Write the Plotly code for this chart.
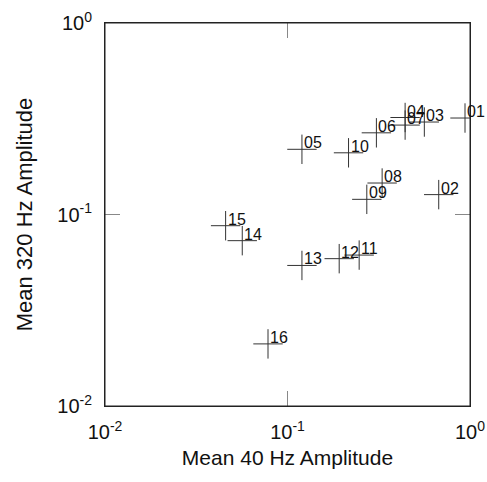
import math
import plotly.graph_objects as go

labels = ["01", "02", "03", "04", "05", "06", "07", "08",
          "09", "10", "11", "12", "13", "14", "15", "16"]
mean_40hz = [0.939, 0.674, 0.562, 0.441, 0.120, 0.307, 0.441, 0.330,
             0.272, 0.216, 0.247, 0.192, 0.120, 0.0565, 0.0458, 0.0782]
mean_320hz = [0.319, 0.127, 0.304, 0.321, 0.219, 0.267, 0.293, 0.146,
              0.120, 0.210, 0.0614, 0.0588, 0.0542, 0.0730, 0.0874, 0.0211]

tick_vals = [0.01, 0.1, 1]
tick_text = ["10<sup>-2</sup>", "10<sup>-1</sup>", "10<sup>0</sup>"]

FONT = "Liberation Sans, Arial, Helvetica, sans-serif"

fig = go.Figure()
fig.add_trace(go.Scatter(
    x=mean_40hz, y=mean_320hz, mode="markers",
    marker=dict(symbol="cross-thin-open", size=21, color="#333",
                line=dict(width=1, color="#333")),
    hoverinfo="skip", showlegend=False,
))

annotations = []
for lab, xv, yv in zip(labels, mean_40hz, mean_320hz):
    annotations.append(dict(
        x=math.log10(xv), y=math.log10(yv), xref="x", yref="y",
        text=lab, showarrow=False, xanchor="left", yanchor="bottom",
        xshift=0, yshift=-4,
        font=dict(family=FONT, size=16, color="#111"),
    ))

axis_common = dict(
    type="log", showgrid=False, zeroline=False, automargin=False,
    showline=True, linecolor="#222", linewidth=1, mirror="ticks",
    ticks="inside", ticklen=15, tickcolor="#888", tickwidth=1,
    tickvals=tick_vals, ticktext=tick_text,
    tickfont=dict(family=FONT, size=20, color="#111"),
)

fig.update_layout(
    width=487, height=482,
    margin=dict(l=105, r=17, t=23, b=76),
    paper_bgcolor="white", plot_bgcolor="white",
    xaxis=dict(axis_common, range=[-2, 0], ticklabelstandoff=8,
               title=dict(text="Mean 40 Hz Amplitude", standoff=8,
                          font=dict(family=FONT, size=21, color="#111"))),
    yaxis=dict(axis_common, range=[-2, 0], ticklabelstandoff=8,
               title=dict(text="Mean 320 Hz Amplitude", standoff=18,
                          font=dict(family=FONT, size=22, color="#111"))),
    annotations=annotations,
    shapes=[dict(type="rect", xref="paper", yref="paper",
                 x0=0, x1=1, y0=0, y1=1,
                 line=dict(color="#222", width=1), layer="above")],
)

fig.write_html(
    "out.html",
    config={"displayModeBar": False, "staticPlot": True},
    post_script="document.body.style.margin='0';document.body.style.overflow='hidden';",
)
